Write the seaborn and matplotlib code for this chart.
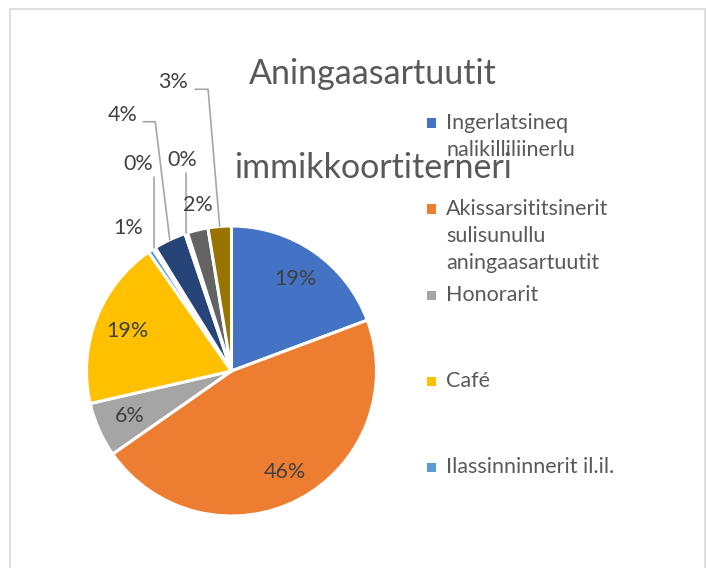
import matplotlib
matplotlib.use("Agg")
import matplotlib.pyplot as plt
from matplotlib.patches import Rectangle
import seaborn as sns
import math

# ---- data ----
categories = [
    "Ingerlatsineq\nnalikilliliinerlu",
    "Akissarsititsinerit\nsulisunullu\naningaasartuutit",
    "Honorarit",
    "Café",
    "Ilassinninnerit il.il.",
    "Allat 1",
    "Allat 2",
    "Allat 3",
    "Allat 4",
    "Allat 5",
]
values = [19.3, 46.0, 6.1, 18.9, 0.6, 0.3, 3.6, 0.3, 2.3, 2.6]
colors = ["#4472C4", "#ED7D31", "#A5A5A5", "#FFC000", "#5B9BD5",
          "#70AD47", "#264478", "#9E480E", "#636363", "#997300"]
title_lines = ["Aningaasartuutit", "immikkoortiterneri"]
legend_count = 5

sns.set_style("white")
plt.rcParams["font.family"] = ["Lato", "DejaVu Sans"]

W, H = 708, 568
fig = plt.figure(figsize=(W / 100, H / 100), dpi=100)
fig.patch.set_facecolor("white")

# frame
fig.patches.append(Rectangle((9.5 / W, -0.01), 695 / W, (H - 9.5) / H + 0.01,
                             transform=fig.transFigure, fill=False,
                             edgecolor="#D9D9D9", linewidth=1.2))

cx, cy, R = 231.5, 371, 145
ax = fig.add_axes([(cx - R) / W, (H - cy - R) / H, 2 * R / W, 2 * R / H])
pal = sns.color_palette(colors)
wedges, _ = ax.pie(values, colors=pal, startangle=90, counterclock=False,
                   wedgeprops=dict(edgecolor="white", linewidth=2.2))
ax.set_xlim(-1, 1)
ax.set_ylim(-1, 1)
ax.set_aspect("equal")
ax.axis("off")

lab_color = "#404040"
fs = 15.5

def mid(w):
    a = math.radians((w.theta1 + w.theta2) / 2)
    return math.cos(a), math.sin(a)

# layout for small-slice labels: (label x, label y, elbow y, horizontal end x or None)
small_layout = {
    4: (-0.714, 0.986, None, None),
    5: (-0.645, 1.428, 1.338, None),
    6: (-0.750, 1.766, 1.719, -0.608),
    7: (-0.337, 1.455, 1.363, None),
    8: (-0.229, 1.145, None, None),
    9: (-0.401, 1.995, 1.943, -0.252),
}

for i, (w, v) in enumerate(zip(wedges, values)):
    txt = f"{round(v):.0f}%"
    mx, my = mid(w)
    if i in small_layout:
        lx, ly, ey, hx = small_layout[i]
        if ey is not None:
            if hx is None:
                xs, ys = [mx, mx], [my, ey]
            else:
                ex = mx - 0.1 if i == 6 else mx - 0.08
                xs, ys = [mx, ex, hx], [my, ey, ey]
            ax.plot(xs, ys, color="#A6A6A6", linewidth=1.2, clip_on=False)
        ax.text(lx, ly, txt, ha="center", va="center", fontsize=fs,
                color=lab_color, clip_on=False)
    else:
        r = 0.79 if i == 1 else 0.77
        ax.text(mx * r, my * r, txt, ha="center", va="center",
                fontsize=fs, color=lab_color)

# title
fig.text(373 / W, 1 - 74 / H, title_lines[0], ha="center", va="center",
         fontsize=24.5, color="#595959")
fig.text(373 / W, 1 - 168 / H, title_lines[1], ha="center", va="center",
         fontsize=24.5, color="#595959")

# legend (first entries, as in the reference)
for i in range(legend_count):
    ty = 123 + 86 * i
    fig.patches.append(Rectangle(((432 - 4.5) / W, 1 - (ty + 4.5) / H), 9 / W, 9 / H,
                                 transform=fig.transFigure, facecolor=pal[i],
                                 edgecolor="none"))
    fig.text(446 / W, 1 - (ty - 10) / H, categories[i], ha="left", va="top",
             fontsize=15.5, color="#595959", linespacing=1.45)

fig.savefig("out.png", dpi=100)
